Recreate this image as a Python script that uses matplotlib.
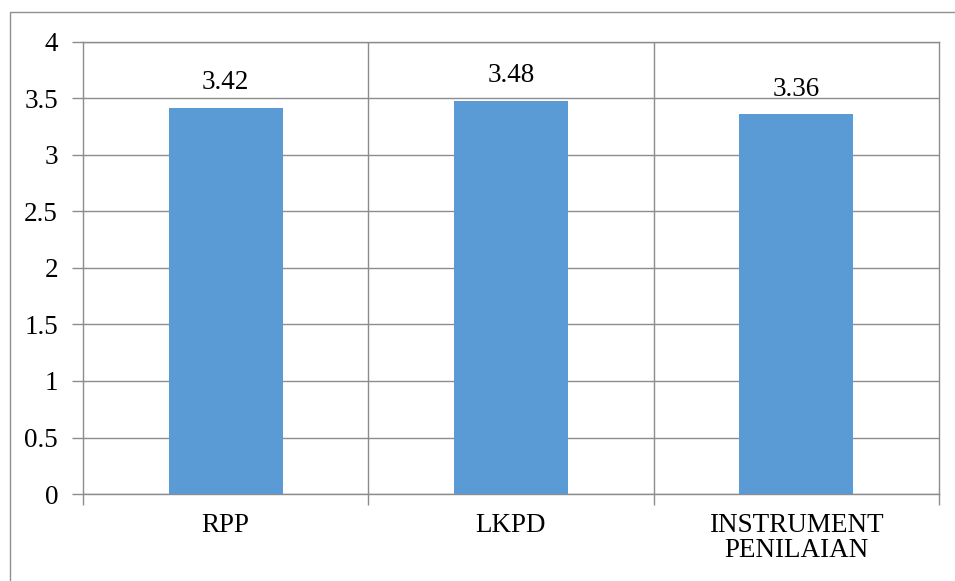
import matplotlib
matplotlib.use("Agg")
import matplotlib.pyplot as plt
from matplotlib.patches import Rectangle

categories = ["RPP", "LKPD", "INSTRUMENT\nPENILAIAN"]
values = [3.42, 3.48, 3.36]
value_labels = ["3.42", "3.48", "3.36"]
yticks = [0, 0.5, 1, 1.5, 2, 2.5, 3, 3.5, 4]
ytick_labels = ["0", "0.5", "1", "1.5", "2", "2.5", "3", "3.5", "4"]

plt.rcParams['font.family'] = ['Liberation Serif', 'DejaVu Serif']

W, H = 955, 581
fig = plt.figure(figsize=(W / 100, H / 100), dpi=100)
grid_c = "#8c8c8c"

# outer chart border (partially cropped in reference)
fig.patches.append(Rectangle((10 / W, -0.05), 1.2, 1 - 12.5 / H + 0.05,
                             transform=fig.transFigure, fill=False,
                             edgecolor="#8f8f8f", linewidth=1.0))

ax = fig.add_axes([83 / W, 1 - 494 / H, (939 - 83) / W, (494 - 42) / H])
x = list(range(len(categories)))
ax.bar(x, values, width=0.4, color="#5B9BD5", zorder=3)

ax.set_xlim(-0.5, 2.5)
ax.set_ylim(0, 4)
ax.set_yticks(yticks)
ax.set_yticklabels(ytick_labels, fontsize=19.5)
ax.yaxis.grid(True, color=grid_c, linewidth=1.0, zorder=0)

# category boundaries as x ticks (major), labels as minor ticks at centers
ax.set_xticks([-0.5, 0.5, 1.5, 2.5])
ax.set_xticklabels([])
ax.set_xticks(x, minor=True)
ax.set_xticklabels(categories, minor=True, fontsize=19.5, linespacing=1.0)
ax.tick_params(axis='x', which='minor', length=0, pad=14)
ax.tick_params(axis='x', which='major', length=8, color=grid_c, width=1.0)
ax.tick_params(axis='y', length=8, color=grid_c, width=1.0, pad=10)
for xv in [0.5, 1.5]:
    ax.axvline(xv, color=grid_c, linewidth=1.0, zorder=0)

for s in ax.spines.values():
    s.set_color(grid_c)
    s.set_linewidth(1.0)

for xi, v, lab in zip(x, values, value_labels):
    ax.annotate(lab, (xi, v), xytext=(0, 9), textcoords="offset points",
                ha="center", va="bottom", fontsize=19.5)

fig.savefig("out.png", dpi=100)
